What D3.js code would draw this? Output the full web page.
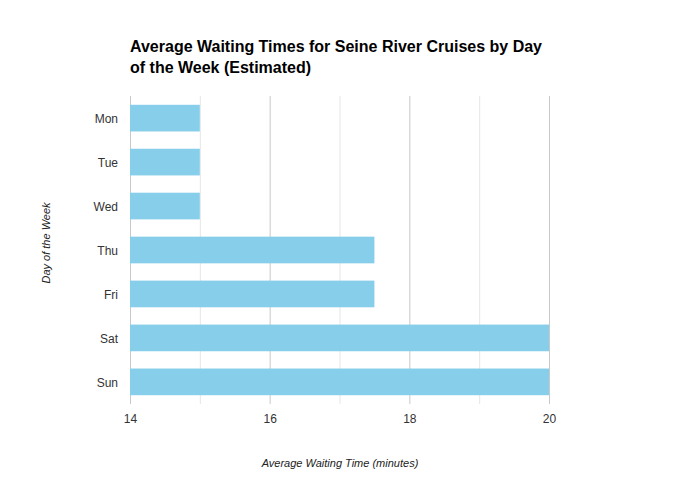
<!DOCTYPE html>
<html>
<head>
<meta charset="utf-8">
<script src="https://cdn.jsdelivr.net/npm/d3@7"></script>
<style>
  html, body { margin: 0; padding: 0; background: #fff; }
  svg { display: block; font-family: "Liberation Sans", Arial, Helvetica, sans-serif; }
</style>
</head>
<body>
<svg id="chart" width="680" height="500"></svg>
<script>
const days = ["Mon", "Tue", "Wed", "Thu", "Fri", "Sat", "Sun"];
const waitMinutes = [15, 15, 15, 17.5, 17.5, 20, 20];
const majorTicks = [14, 16, 18, 20];
const minorTicks = [15, 17, 19];
const titleLines = ["Average Waiting Times for Seine River Cruises by Day", "of the Week (Estimated)"];
const xTitle = "Average Waiting Time (minutes)";
const yTitle = "Day of the Week";

const svg = d3.select("#chart");
const plotLeft = 130, plotRight = 549, plotTop = 96, plotBottom = 404;

const x = d3.scaleLinear().domain([14, 20]).range([plotLeft, plotRight]);
const y = d3.scaleBand().domain(days).range([plotTop, plotBottom]).paddingInner(0.393).paddingOuter(0.2);

// gridlines
svg.append("g").selectAll("line").data(minorTicks).join("line")
  .attr("x1", d => x(d) + 0.5).attr("x2", d => x(d) + 0.5)
  .attr("y1", plotTop).attr("y2", plotBottom)
  .attr("stroke", "#e6e6e6").attr("stroke-width", 1);
svg.append("g").selectAll("line").data(majorTicks).join("line")
  .attr("x1", d => x(d) + 0.5).attr("x2", d => x(d) + 0.5)
  .attr("y1", plotTop).attr("y2", plotBottom)
  .attr("stroke", "#c8c8c8").attr("stroke-width", 1);

// bars
svg.append("g").selectAll("rect").data(days).join("rect")
  .attr("x", x(14))
  .attr("y", d => y(d))
  .attr("width", (d, i) => x(waitMinutes[i]) - x(14))
  .attr("height", y.bandwidth())
  .attr("fill", "#87CEEB");

// x axis labels
const xAxis = d3.axisBottom(x).tickValues(majorTicks).tickSize(0).tickPadding(10).tickFormat(d3.format("d"));
const gx = svg.append("g").attr("transform", `translate(0,${plotBottom})`).call(xAxis);
gx.select(".domain").remove();
gx.selectAll("text").attr("font-size", 12).attr("fill", "#333").attr("font-family", "Liberation Sans, Arial, sans-serif");

// y axis labels
const yAxis = d3.axisLeft(y).tickSize(0).tickPadding(12);
const gy = svg.append("g").attr("transform", `translate(${plotLeft},0.8)`).call(yAxis);
gy.select(".domain").remove();
gy.selectAll("text").attr("font-size", 12).attr("fill", "#333").attr("font-family", "Liberation Sans, Arial, sans-serif");

// title
const t = svg.append("text").attr("x", plotLeft).attr("y", 52)
  .attr("font-size", 16).attr("font-weight", "bold").attr("fill", "#000");
titleLines.forEach((line, i) => {
  t.append("tspan").attr("x", plotLeft).attr("dy", i === 0 ? 0 : 20.5).text(line);
});

// axis titles
svg.append("text").attr("x", 340).attr("y", 467)
  .attr("text-anchor", "middle").attr("font-size", 11).attr("font-style", "italic").attr("fill", "#222")
  .text(xTitle);
svg.append("text").attr("transform", "translate(50,243) rotate(-90)")
  .attr("text-anchor", "middle").attr("font-size", 11).attr("font-style", "italic").attr("fill", "#222")
  .text(yTitle);
</script>
</body>
</html>
